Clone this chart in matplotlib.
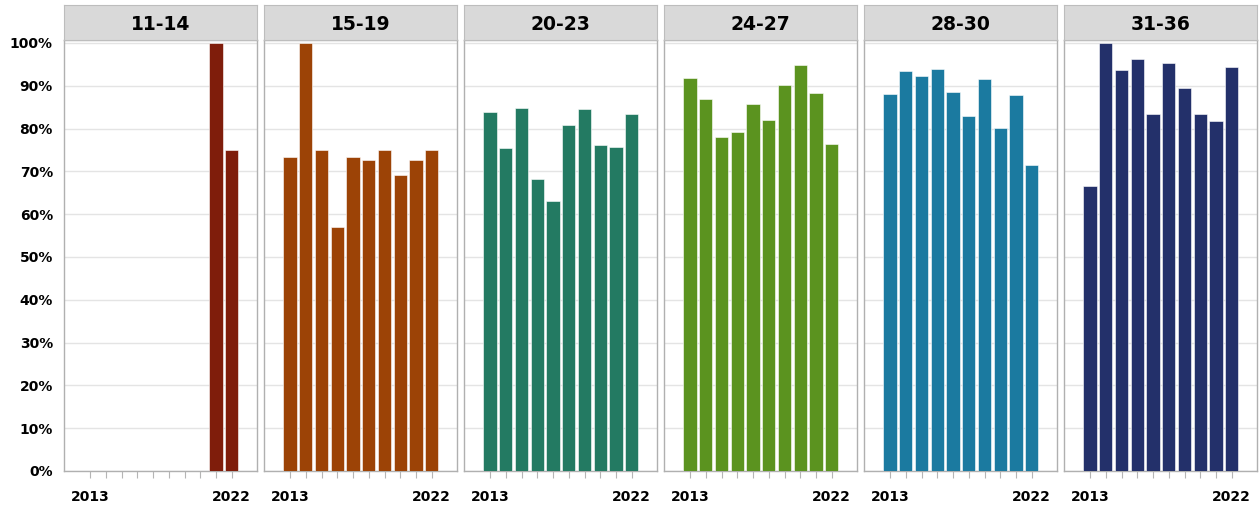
import matplotlib
matplotlib.use('Agg')
import matplotlib.pyplot as plt
import numpy as np

years = list(range(2013, 2023))
groups = ['11-14', '15-19', '20-23', '24-27', '28-30', '31-36']
colors = ['#7f1d0b', '#9c4306', '#237a62', '#5b931f', '#1b7aa0', '#23306a']

v_11_14 = [np.nan] * 8 + [100, 75]
v_15_19 = [73.3, 100, 75, 57.1, 73.3, 72.7, 75, 69.2, 72.7, 75]
v_20_23 = [83.9, 75.5, 84.8, 68.3, 63.0, 80.9, 84.5, 76.1, 75.6, 83.3]
v_24_27 = [91.9, 86.8, 78.0, 79.1, 85.7, 82.1, 90.1, 94.9, 88.4, 76.3]
v_28_30 = [88.0, 93.5, 92.3, 94.0, 88.6, 82.9, 91.7, 80.1, 87.9, 71.4]
v_31_36 = [66.7, 100, 93.8, 96.3, 83.3, 95.3, 89.5, 83.3, 81.7, 94.4]
values = [v_11_14, v_15_19, v_20_23, v_24_27, v_28_30, v_31_36]

W, H = 1259, 514
fig = plt.figure(figsize=(W / 100, H / 100), dpi=100)

for i, (name, col, vals) in enumerate(zip(groups, colors, values)):
    left = 64 + 200 * i
    ax = fig.add_axes([left / W, (H - 471) / H, 193 / W, 431 / H])
    ax.bar(years, vals, width=0.85, color=col, edgecolor='white', linewidth=0.4, zorder=3)
    ax.set_xlim(years[0] - 1.65, years[-1] + 1.6)
    ax.set_ylim(0, 100.7)
    ax.set_yticks(range(0, 101, 10))
    ax.grid(axis='y', color='#e4e4e4', linewidth=1, zorder=0)
    ax.set_xticks(years)
    ax.set_xticklabels([str(y) if y in (years[0], years[-1]) else '' for y in years],
                       fontsize=10, fontweight='bold')
    ax.tick_params(axis='x', length=5, color='#b5b5b5', pad=9)
    if i == 0:
        ax.set_yticklabels([f'{t}%' for t in range(0, 101, 10)], fontsize=10, fontweight='bold')
        ax.tick_params(axis='y', length=0, pad=8)
    else:
        ax.tick_params(axis='y', length=0, labelleft=False)
    for s in ax.spines.values():
        s.set_color('#b0b0b0')
        s.set_linewidth(1)

    hx = fig.add_axes([left / W, (H - 40) / H, 193 / W, 35 / H])
    hx.set_facecolor('#d9d9d9')
    hx.set_xticks([])
    hx.set_yticks([])
    for s in hx.spines.values():
        s.set_color('#bdbdbd')
    hx.text(0.5, 0.45, name, ha='center', va='center', fontsize=13.5, fontweight='heavy',
            transform=hx.transAxes)

fig.savefig('out.png', dpi=100)
